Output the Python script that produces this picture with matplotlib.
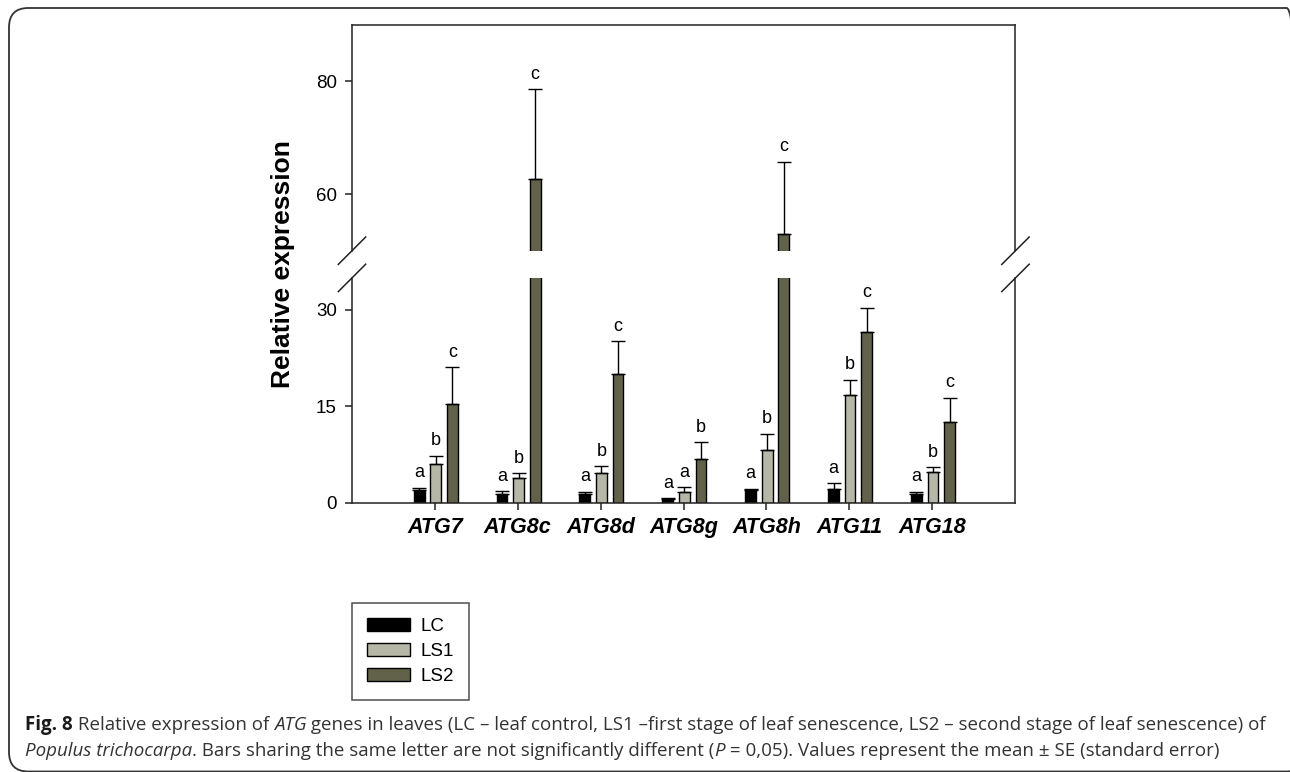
import matplotlib
matplotlib.use("Agg")
import matplotlib.pyplot as plt
import numpy as np
from matplotlib.patches import Patch, FancyBboxPatch
from matplotlib.lines import Line2D

genes = ["ATG7", "ATG8c", "ATG8d", "ATG8g", "ATG8h", "ATG11", "ATG18"]
series = ["LC", "LS1", "LS2"]
lc_mean = [2.0, 1.4, 1.35, 0.6, 1.9, 2.2, 1.4]
lc_err = [0.3, 0.35, 0.35, 0.1, 0.3, 0.8, 0.3]
ls1_mean = [6.0, 3.8, 4.6, 1.7, 8.2, 16.8, 4.7]
ls1_err = [1.3, 0.8, 1.1, 0.7, 2.5, 2.3, 0.8]
ls2_mean = [15.4, 62.7, 20.0, 6.8, 53.0, 26.6, 12.5]
ls2_err = [5.7, 15.9, 5.1, 2.6, 12.8, 3.7, 3.8]
letters_lc = ["a", "a", "a", "a", "a", "a", "a"]
letters_ls1 = ["b", "b", "b", "a", "b", "b", "b"]
letters_ls2 = ["c", "c", "c", "b", "c", "c", "c"]
lower_ticks = [0, 15, 30]
upper_ticks = [60, 80]

colors = ["#000000", "#b6b7a6", "#62624a"]
means = [lc_mean, ls1_mean, ls2_mean]
errs = [lc_err, ls1_err, ls2_err]
lets = [letters_lc, letters_ls1, letters_ls2]
offsets = [-0.19, 0.01, 0.21]
bw = 0.13

W, H = 1290, 772
fig = plt.figure(figsize=(W / 100, H / 100), dpi=100)
plt.rcParams['font.family'] = ['Liberation Sans', 'DejaVu Sans']

L, R = 352 / W, 1015 / W
ax_lo = fig.add_axes([L, 1 - 502.7 / H, R - L, (502.7 - 277.7) / H])
ax_hi = fig.add_axes([L, 1 - 250.7 / H, R - L, (250.7 - 25) / H])

x = np.arange(1, len(genes) + 1)
for ax in (ax_lo, ax_hi):
    for k in range(3):
        xs = x + offsets[k]
        ax.bar(xs, means[k], width=bw, color=colors[k], edgecolor="black",
               linewidth=1.0, zorder=2)
        ax.errorbar(xs, means[k], yerr=[np.zeros(len(genes)), errs[k]],
                    fmt="none", ecolor="black", elinewidth=1.0, capsize=5,
                    capthick=1.0, zorder=3)
        for xi, m, e, t in zip(xs, means[k], errs[k], lets[k]):
            ax.annotate(t, (xi, m + e), xytext=(0, 7.5), textcoords="offset points",
                        ha="center", va="baseline", fontsize=13,
                        annotation_clip=True)
    ax.set_xlim(0, 8)
    for s in ax.spines.values():
        s.set_linewidth(1.1)
        s.set_color("#222222")
    ax.tick_params(axis="y", direction="out", length=5, width=1.1,
                   labelsize=13.5, pad=6, colors="#222222")
    ax.tick_params(axis="y", labelcolor="black")

ax_lo.set_ylim(0, 35)
ax_hi.set_ylim(50, 90)
ax_lo.set_yticks(lower_ticks)
ax_hi.set_yticks(upper_ticks)
ax_lo.spines["top"].set_visible(False)
ax_hi.spines["bottom"].set_visible(False)
ax_hi.set_xticks([])
ax_lo.set_xticks(x)
ax_lo.set_xticklabels(genes, fontsize=15.5, fontweight="bold", fontstyle="italic")
ax_lo.tick_params(axis="x", direction="out", length=5, width=1.1, pad=5,
                  colors="#222222", labelcolor="black")

# break marks
d = 13.7
for yy in (250.7, 277.9):
    for xx in (352, 1015.5):
        fig.add_artist(Line2D([(xx - d) / W, (xx + d) / W],
                              [1 - (yy + d) / H, 1 - (yy - d) / H],
                              color="#222222", linewidth=1.1))

fig.text(283 / W, 1 - 264 / H, "Relative expression", rotation=90,
         ha="center", va="center", fontsize=19, fontweight="bold")

handles = [Patch(facecolor=c, edgecolor="black", linewidth=1.0) for c in colors]
leg = fig.legend(handles, series, loc="upper left",
                 bbox_to_anchor=(351.7 / W, 1 - 603.3 / H), fontsize=13.5,
                 frameon=True, fancybox=False, edgecolor="#222222",
                 handlelength=2.3, handleheight=0.7, labelspacing=0.42,
                 handletextpad=0.55, borderpad=0.8, borderaxespad=0)
leg.get_frame().set_linewidth(1.1)

# outer rounded frame
fig.add_artist(FancyBboxPatch((9 / W, 1 - 771.5 / H), (1306 - 9) / W, (771.5 - 8) / H,
                              boxstyle="round,pad=0,rounding_size=0.015",
                              transform=fig.transFigure, fill=False,
                              edgecolor="#333333", linewidth=1.3,
                              mutation_aspect=W / H))

# caption with mixed styles
cap_font = ['Open Sans', 'DejaVu Sans']
cap_size = 13.5
line1 = [("Fig. 8", dict(fontweight="bold", color="#1a1a1a")),
         (" Relative expression of ", {}),
         ("ATG", dict(fontstyle="italic")),
         (" genes in leaves (LC \u2013 leaf control, LS1 \u2013first stage of leaf senescence, LS2 \u2013 second stage of leaf senescence) of", {})]
line2 = [("Populus trichocarpa", dict(fontstyle="italic")),
         (". Bars sharing the same letter are not significantly different (", {}),
         ("P", dict(fontstyle="italic")),
         (" = 0,05). Values represent the mean \u00b1 SE (standard error)", {})]

fig.canvas.draw()
renderer = fig.canvas.get_renderer()


def draw_runs(runs, x0, y0):
    xc = x0
    for s, kw in runs:
        props = dict(family=cap_font, fontsize=cap_size, color="#333333",
                     va="baseline", ha="left")
        props.update(kw)
        t = fig.text(xc / W, 1 - y0 / H, s, **props)
        bb = t.get_window_extent(renderer=renderer)
        xc += bb.width


draw_runs(line1, 25, 730)
draw_runs(line2, 25, 756)

fig.savefig("out.png", dpi=100)
